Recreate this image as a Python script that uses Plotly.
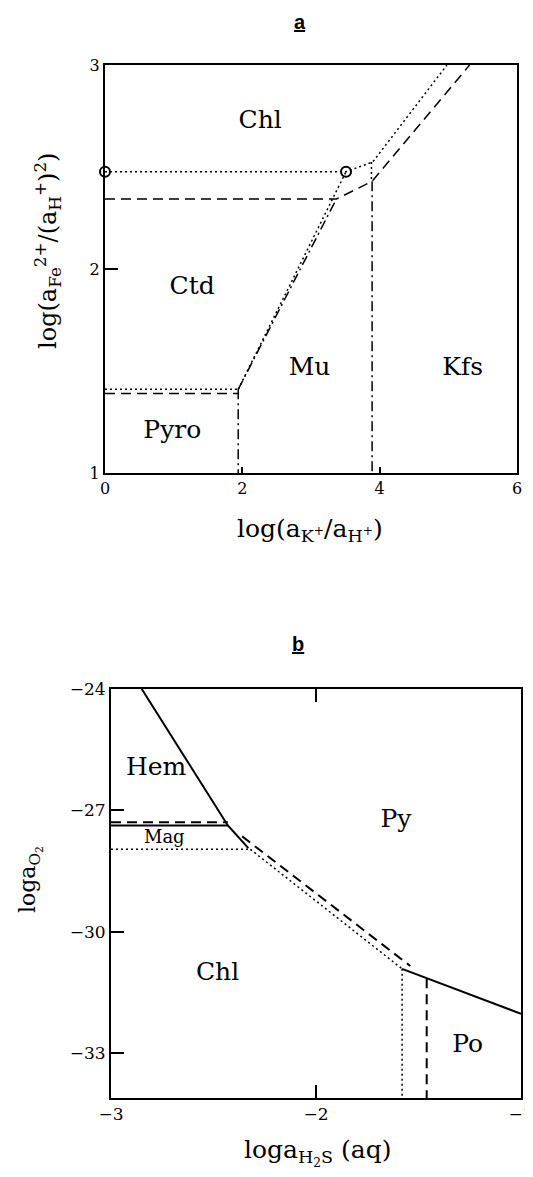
import plotly.graph_objects as go

# ---------------- Panel a data ----------------
a_xticks = [0, 2, 4, 6]
a_yticks = [1, 2, 3]
# dotted boundaries
a_dot_chl_x = [0, 3.51, 3.90, 4.98]
a_dot_chl_y = [2.477, 2.477, 2.525, 3.0]
a_dot_vert_x = [3.88, 3.88]
a_dot_vert_y = [2.525, 2.43]
a_dot_steep_x = [1.94, 3.51]
a_dot_steep_y = [1.41, 2.477]
a_dot_pyro_x = [0, 1.94]
a_dot_pyro_y = [1.41, 1.41]
# dashed boundaries
a_dash_x = [0, 3.37, 3.89, 5.31]
a_dash_y = [2.343, 2.343, 2.43, 3.0]
a_dash_pyro_x = [0, 1.94]
a_dash_pyro_y = [1.39, 1.39]
# dash-dot boundaries
a_dd_steep_x = [1.94, 3.37]
a_dd_steep_y = [1.41, 2.343]
a_dd_vert1_x = [1.94, 1.94]
a_dd_vert1_y = [1.41, 1.0]
a_dd_vert2_x = [3.89, 3.89]
a_dd_vert2_y = [2.43, 1.0]
# open circles
a_circle_x = [0, 3.51]
a_circle_y = [2.477, 2.477]
# labels
a_labels = ["Chl", "Ctd", "Mu", "Kfs", "Pyro"]
a_label_x = [2.26, 1.27, 2.98, 5.21, 0.98]
a_label_y = [2.72, 1.91, 1.51, 1.51, 1.20]

# ---------------- Panel b data ----------------
b_xticks = [-3, -2, -1]
b_yticks = [-24, -27, -30, -33]
b_solid_hem_x = [-2.85, -2.43, -2.33]
b_solid_hem_y = [-24.0, -27.37, -27.93]
b_solid_mag_x = [-3.0, -2.43]
b_solid_mag_y = [-27.37, -27.37]
b_solid_po_x = [-1.58, -1.0]
b_solid_po_y = [-30.91, -32.02]
b_dash_mag_x = [-3.0, -2.43]
b_dash_mag_y = [-27.29, -27.29]
b_dash_diag_x = [-2.36, -1.54]
b_dash_diag_y = [-27.64, -30.84]
b_dash_vert_x = [-1.46, -1.46]
b_dash_vert_y = [-31.14, -34.1]
b_dot_mag_x = [-3.0, -2.32]
b_dot_mag_y = [-27.96, -27.96]
b_dot_diag_x = [-2.32, -1.58]
b_dot_diag_y = [-27.96, -30.91]
b_dot_vert_x = [-1.58, -1.58]
b_dot_vert_y = [-30.91, -34.1]
b_labels = ["Hem", "Py", "Chl", "Po"]
b_label_x = [-2.78, -1.61, -2.48, -1.26]
b_label_y = [-25.96, -27.25, -31.03, -32.8]
b_small_label = "Mag"
b_small_x = -2.74
b_small_y = -27.68

SERIF = "DejaVu Serif"
DOT = "2px,3px"
DASH = "10px,6px"
DASHDOT = "10px,4px,2px,4px"

fig = go.Figure()


def seg(x, y, dash, xa="x", ya="y", width=1.5):
    fig.add_trace(go.Scatter(x=x, y=y, mode="lines", xaxis=xa, yaxis=ya,
                             line=dict(color="black", width=width, dash=dash),
                             showlegend=False, hoverinfo="skip"))


# panel a
seg(a_dot_chl_x, a_dot_chl_y, DOT)
seg(a_dot_vert_x, a_dot_vert_y, DOT)
seg(a_dot_steep_x, a_dot_steep_y, DOT)
seg(a_dot_pyro_x, a_dot_pyro_y, DOT)
seg(a_dash_x, a_dash_y, DASH)
seg(a_dash_pyro_x, a_dash_pyro_y, DASH)
seg(a_dd_steep_x, a_dd_steep_y, DASHDOT)
seg(a_dd_vert1_x, a_dd_vert1_y, DASHDOT)
seg(a_dd_vert2_x, a_dd_vert2_y, DASHDOT)
fig.add_trace(go.Scatter(x=a_circle_x, y=a_circle_y, mode="markers",
                         marker=dict(symbol="circle-open", size=10, color="black",
                                     line=dict(width=2, color="black")),
                         cliponaxis=False, showlegend=False, hoverinfo="skip"))
fig.add_trace(go.Scatter(x=a_label_x, y=a_label_y, mode="text", text=a_labels,
                         textfont=dict(family=SERIF, size=25, color="black"),
                         showlegend=False, hoverinfo="skip"))

# panel b
seg(b_solid_hem_x, b_solid_hem_y, "solid", "x2", "y2", 2)
seg(b_solid_mag_x, b_solid_mag_y, "solid", "x2", "y2", 2)
seg(b_solid_po_x, b_solid_po_y, "solid", "x2", "y2", 2)
seg(b_dash_mag_x, b_dash_mag_y, DASH, "x2", "y2", 2)
seg(b_dash_diag_x, b_dash_diag_y, DASH, "x2", "y2", 2)
seg(b_dash_vert_x, b_dash_vert_y, DASH, "x2", "y2", 2)
seg(b_dot_mag_x, b_dot_mag_y, DOT, "x2", "y2", 1.5)
seg(b_dot_diag_x, b_dot_diag_y, DOT, "x2", "y2", 1.5)
seg(b_dot_vert_x, b_dot_vert_y, DOT, "x2", "y2", 1.5)
fig.add_trace(go.Scatter(x=b_label_x, y=b_label_y, mode="text", text=b_labels,
                         xaxis="x2", yaxis="y2",
                         textfont=dict(family=SERIF, size=25, color="black"),
                         showlegend=False, hoverinfo="skip"))
fig.add_trace(go.Scatter(x=[b_small_x], y=[b_small_y], mode="text", text=[b_small_label],
                         xaxis="x2", yaxis="y2",
                         textfont=dict(family=SERIF, size=18, color="black"),
                         showlegend=False, hoverinfo="skip"))

# page body adds an 8px margin; compensate so the figure lands on the 533x1177 window
OFF = 8
W, H = 533 - OFF, 1177 - OFF


def px_x(p):
    return (p - OFF) / W


def px_y(p):
    return 1 - (p - OFF) / H


axis_common = dict(showline=True, linecolor="black", linewidth=2, showgrid=False,
                   zeroline=False, ticks="inside", tickcolor="black", tickwidth=2,
                   automargin=False, ticklabeloverflow="allow")

fig.update_layout(
    template="none",
    width=W, height=H, margin=dict(l=0, r=0, t=0, b=0, autoexpand=False),
    paper_bgcolor="white", plot_bgcolor="white",
    xaxis=dict(axis_common, domain=[px_x(105), px_x(517)], range=[0, 6], tickvals=a_xticks,
               ticklen=6, mirror=True, anchor="y",
               tickfont=dict(family=SERIF, size=16, color="black")),
    yaxis=dict(axis_common, domain=[px_y(473), px_y(65)], range=[1, 3], tickvals=a_yticks,
               ticklen=13, mirror=True, anchor="x",
               tickfont=dict(family=SERIF, size=16, color="black")),
    xaxis2=dict(axis_common, domain=[px_x(111), px_x(521)], range=[-3, -1], tickvals=b_xticks,
                ticklen=13, mirror="ticks", anchor="y2",
                tickfont=dict(family=SERIF, size=17, color="black")),
    yaxis2=dict(axis_common, domain=[px_y(1098), px_y(689)], range=[-34.1, -24],
                tickvals=b_yticks, ticklen=13, mirror=True, anchor="x2",
                tickfont=dict(family=SERIF, size=17, color="black")),
)


def ann(text, x, y, size, angle=0, family=SERIF):
    fig.add_annotation(text=text, x=px_x(x), y=px_y(y), xref="paper", yref="paper",
                       showarrow=False, textangle=angle, xanchor="center", yanchor="middle",
                       font=dict(family=family, size=size, color="black"))


ann("<b><u>a</u></b>", 300, 22, 20, family="Liberation Sans")
ann("<b><u>b</u></b>", 298, 644, 20, family="Liberation Sans")
ann("log(a<sub>Fe</sub><sup>2+</sup>/(a<sub>H</sub><sup>+</sup>)<sup>2</sup>)", 47, 251, 24, -90)
ann("log(a<sub>K<sup>+</sup></sub>/a<sub>H<sup>+</sup></sub>)", 310, 530, 25)
ann("loga<sub>O<sub>2</sub></sub>", 30, 880, 22, -90)
ann("loga<sub>H<sub>2</sub>S</sub> (aq)", 317, 1152, 25)

fig.write_html("out.html")
